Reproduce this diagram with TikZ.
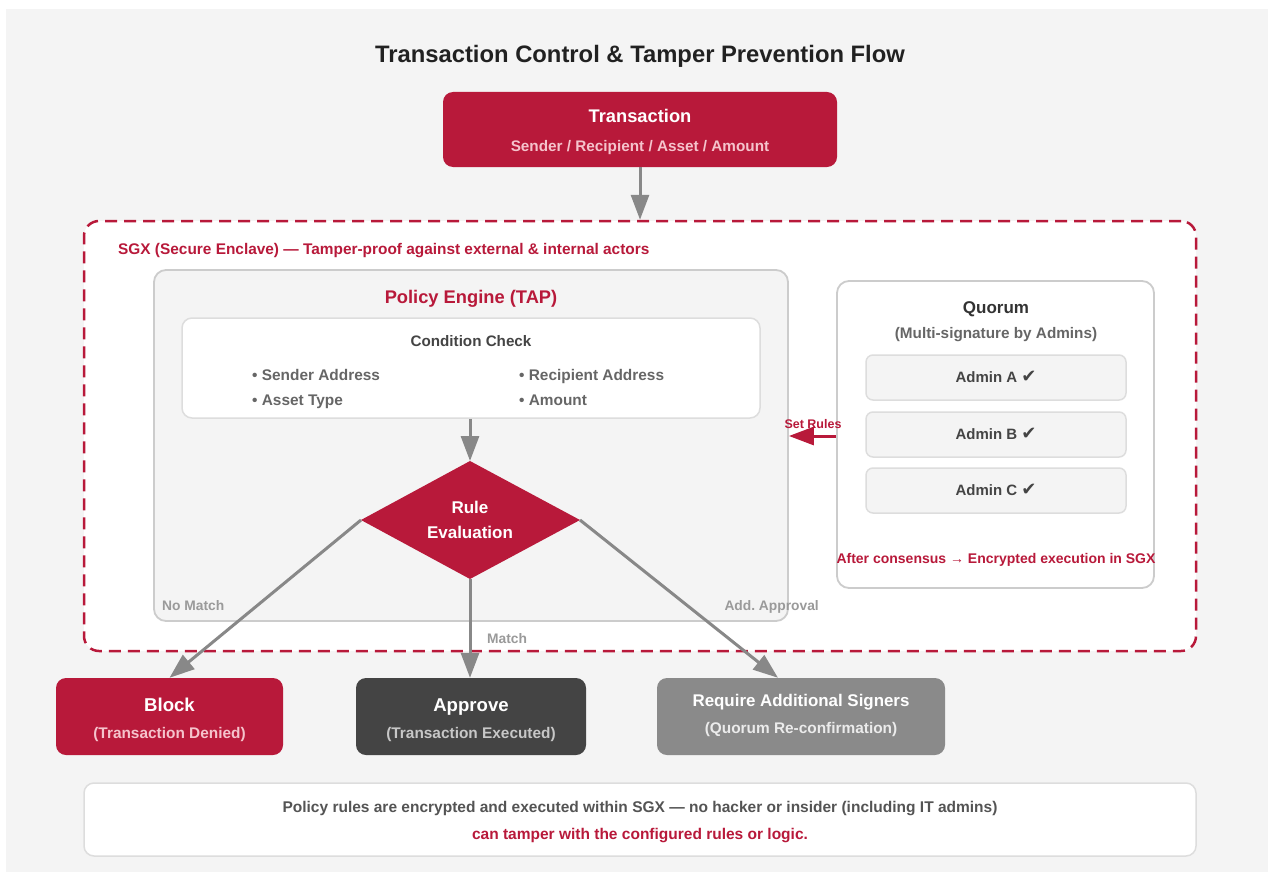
\documentclass[tikz,border=0pt]{standalone}
\usepackage{fontspec}
\setmainfont{Liberation Sans}
\newfontfamily\symfont{DejaVu Sans}
\usetikzlibrary{arrows.meta,positioning}

\definecolor{crimson}{HTML}{B8193A}
\definecolor{pinktxt}{HTML}{F5C3CC}
\definecolor{pagebg}{HTML}{F4F4F4}
\definecolor{arrowgray}{HTML}{888888}
\definecolor{edgegray}{HTML}{CCCCCC}
\definecolor{softedge}{HTML}{DDDDDD}
\definecolor{darkbox}{HTML}{444444}
\definecolor{midbox}{HTML}{8A8A8A}

\newcommand{\fs}[1]{\fontsize{#1}{#1}\selectfont}

\begin{document}
\begin{tikzpicture}[x=1pt, y=-1pt, >={Triangle[length=25pt,width=18pt]},
	every node/.style={font=\bfseries, inner sep=0pt, text height=1em, text depth=0em},
	card/.style={rounded corners=10pt, draw=none},
	panel/.style={draw=edgegray, line width=1.8pt, rounded corners=12pt},
	chip/.style={draw=softedge, line width=1.5pt, rounded corners=7pt, fill=pagebg, minimum width=260, minimum height=45, font=\bfseries\fs{15}, text=darkbox},
	flow/.style={->, draw=arrowgray, line width=3pt},
	tag/.style={font=\bfseries\fs{13.8}, text=arrowgray!85}]
	\useasboundingbox (0,0) rectangle (1268,872);
	\fill[white] (0,0) rectangle (1268,872);
	\fill[pagebg] (6,9) rectangle (1268,872);

	\node[text=black!87, font=\bfseries\fs{23.8}] (title) at (640,58) {Transaction Control \& Tamper Prevention Flow};

	% incoming transaction
	\node[card, fill=crimson, minimum width=394, minimum height=75] (tx) at (640,129.5) {};
	\node[text=white, font=\bfseries\fs{18.3}] (txhead) at (640,117) {Transaction};
	\node[text=pinktxt, font=\bfseries\fs{15.3}] (txsub) at (640,146) {Sender / Recipient / Asset / Amount};

	% enclave
	\node[draw=crimson, fill=white, line width=2.5pt, dash pattern=on 12pt off 7pt, rounded corners=15pt, minimum width=1112, minimum height=430] (sgx) at (640,436) {};
	\node[anchor=west, text=crimson, font=\bfseries\fs{15.4}] (sgxlabel) at (118,249) {SGX (Secure Enclave) — Tamper-proof against external \& internal actors};
	\draw[flow] (tx) -- (sgx);

	% policy engine
	\node[panel, fill=pagebg, minimum width=634, minimum height=351] (policy) at (471,445.5) {};
	\node[text=crimson, font=\bfseries\fs{18.3}] (policyhead) at (471,298) {Policy Engine (TAP)};
	\node[draw=softedge, fill=white, line width=1.5pt, rounded corners=10pt, minimum width=578, minimum height=100] (cond) at (471,368) {};
	\node[text=darkbox, font=\bfseries\fs{15.2}] (condhead) at (471,341) {Condition Check};
	\node[anchor=west, text=black!60, font=\bfseries\fs{15.4}] (c1) at (252,375) {• Sender Address};
	\node[anchor=west, text=black!60, font=\bfseries\fs{15.4}] (c2) at (252,400) {• Asset Type};
	\node[anchor=west, text=black!60, font=\bfseries\fs{15.4}] (c3) at (519,375) {• Recipient Address};
	\node[anchor=west, text=black!60, font=\bfseries\fs{15.4}] (c4) at (519,400) {• Amount};

	% rule evaluation
	\coordinate (dtop) at (470,461);
	\coordinate (dleft) at (361,520);
	\coordinate (dright) at (580,520);
	\coordinate (dbot) at (470,579);
	\fill[crimson] (dtop) -- (dright) -- (dbot) -- (dleft) -- cycle;
	\node[text=white, font=\bfseries\fs{17}, text height={}, text depth={}, align=center] (rule) at (470,520) {Rule\\[8pt]Evaluation};
	\draw[flow] (cond.south -| dtop) -- (dtop);

	% quorum
	\node[panel, fill=white, minimum width=317, minimum height=307] (quorum) at (995.5,434.5) {};
	\node[text=black!80, font=\bfseries\fs{17}] (qhead) at (996,308) {Quorum};
	\node[text=black!60, font=\bfseries\fs{15.3}] (qsub) at (996,333) {(Multi-signature by Admins)};
	\node[chip] (adminA) at (996,377.5) {Admin A {\symfont\fs{18}✔}};
	\node[chip] (adminB) at (996,434.5) {Admin B {\symfont\fs{18}✔}};
	\node[chip] (adminC) at (996,490.5) {Admin C {\symfont\fs{18}✔}};
	\node[text=crimson, font=\bfseries\fs{14}] (qnote) at (996,558) {After consensus → Encrypted execution in SGX};
	\draw[->, draw=crimson, line width=3pt] (quorum.west |- 0,436) -- (policy.east |- 0,436);
	\node[text=crimson, font=\bfseries\fs{12.5}] (setrules) at (813,423) {Set Rules};

	% outcomes
	\node[card, fill=crimson, minimum width=227, minimum height=77] (block) at (169.5,716.5) {};
	\node[text=white, font=\bfseries\fs{18.6}] (blockhead) at (169.5,706) {Block};
	\node[text=pinktxt, font=\bfseries\fs{15.4}] (blocksub) at (169.5,733) {(Transaction Denied)};
	\node[card, fill=darkbox, minimum width=230, minimum height=77] (approve) at (471,716.5) {};
	\node[text=white, font=\bfseries\fs{18.6}] (approvehead) at (471,706) {Approve};
	\node[text=black!22, font=\bfseries\fs{15.4}] (approvesub) at (471,733) {(Transaction Executed)};
	\node[card, fill=midbox, minimum width=288, minimum height=77] (require) at (801,716.5) {};
	\node[text=white, font=\bfseries\fs{16.9}] (requirehead) at (801,701) {Require Additional Signers};
	\node[text=black!8, font=\bfseries\fs{15.4}] (requiresub) at (801,728) {(Quorum Re-confirmation)};

	\draw[flow] (dleft) -- (block.north);
	\draw[flow] (dbot) -- (approve.north -| dbot);
	\draw[flow] (dright) -- ([xshift=-23pt]require.north);
	\node[tag, anchor=west] (nomatch) at (162,605) {No Match};
	\node[tag, anchor=east] (addappr) at (819,605) {Add.\ Approval};
	\node[tag, anchor=west] (match) at (487,638) {Match};

	% footer note
	\node[draw=softedge, fill=white, line width=1.5pt, rounded corners=10pt, minimum width=1112, minimum height=73] (note) at (640,819.5) {};
	\node[text=black!67, font=\bfseries\fs{15.5}] (note1) at (640,807) {Policy rules are encrypted and executed within SGX — no hacker or insider (including IT admins)};
	\node[text=crimson, font=\bfseries\fs{15.5}] (note2) at (640,834) {can tamper with the configured rules or logic.};
\end{tikzpicture}
\end{document}
